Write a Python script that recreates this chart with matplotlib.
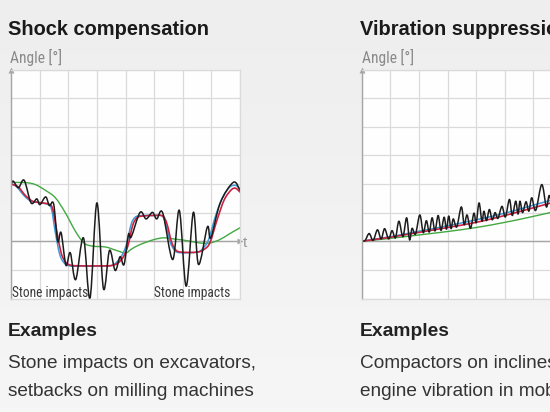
import numpy as np
import matplotlib
matplotlib.use('Agg')
import matplotlib.pyplot as plt
from matplotlib import font_manager as fm
from matplotlib.path import Path
from matplotlib.patches import PathPatch

# ---- data (x in grid cells 0..8, y in cells, axis at 0) ----
# left panel: shock compensation
shock_black_x = [0.0, 0.08, 0.26, 0.46, 0.7, 0.9, 1.01, 1.21, 1.34, 1.49, 1.63, 1.75, 1.92,
                 2.07, 2.26, 2.53, 2.76, 3.0, 3.23, 3.44, 3.64, 3.81, 3.95, 4.1, 4.2, 4.51,
                 4.72, 4.94, 5.09, 5.3, 5.65, 5.88, 6.12, 6.37, 6.55, 6.86, 6.98, 7.31, 7.77, 8.0]
shock_black_y = [2.0, 2.1, 1.87, 2.13, 1.34, 1.48, 1.28, 1.55, 1.25, 1.3, 0.0, 0.3, -0.84,
                 -0.4, -1.34, 0.12, -1.98, 1.34, -1.66, -0.32, -1.02, -0.54, -0.81, 0.23, 0.15, 1.01,
                 0.78, 1.01, 0.78, 0.99, -0.64, 1.08, -1.57, 1.01, -0.81, 0.5, 0.12, 1.34, 2.06, 1.78]

shock_red_x = [0.0, 0.25, 0.5, 0.75, 1.0, 1.3, 1.45, 1.6, 1.75, 1.9, 2.1, 2.5, 3.0, 3.5, 3.75,
               3.95, 4.1, 4.25, 4.4, 4.6, 5.0, 5.3, 5.45, 5.6, 5.75, 5.95, 6.5, 6.75, 6.95, 7.2,
               7.45, 7.7, 7.85, 8.0]
shock_red_y = [2.0, 1.9, 1.6, 1.4, 1.35, 1.3, 1.15, 0.35, -0.4, -0.72, -0.84, -0.86, -0.86, -0.85,
               -0.75, -0.5, -0.1, 0.55, 0.82, 0.88, 0.9, 0.88, 0.6, 0.0, -0.3, -0.38, -0.38, -0.28,
               -0.05, 0.75, 1.45, 1.8, 1.85, 1.72]

shock_blue_x = [0.0, 0.2, 0.45, 0.7, 1.0, 1.3, 1.42, 1.55, 1.7, 1.85, 2.05, 2.5, 3.0, 3.5, 3.7,
                3.9, 4.05, 4.2, 4.35, 4.6, 5.0, 5.28, 5.42, 5.57, 5.72, 5.9, 6.5, 6.7, 6.9, 7.15,
                7.4, 7.65, 7.85, 8.0]
shock_blue_y = [2.0, 1.9, 1.6, 1.4, 1.35, 1.28, 1.1, 0.3, -0.45, -0.75, -0.86, -0.87, -0.87, -0.85,
                -0.72, -0.45, -0.05, 0.6, 0.85, 0.9, 0.9, 0.88, 0.55, -0.05, -0.32, -0.4, -0.38, -0.25,
                0.05, 0.9, 1.55, 1.9, 1.95, 1.83]

shock_green_x = [0.0, 0.5, 0.85, 1.2, 1.55, 1.9, 2.25, 2.55, 2.85, 3.3, 3.65, 4.0, 4.2, 4.5,
                 5.0, 5.35, 5.7, 6.15, 6.6, 6.95, 7.3, 7.65, 8.0]
shock_green_y = [2.05, 2.05, 1.98, 1.78, 1.52, 0.99, 0.35, -0.06, -0.17, -0.2, -0.31, -0.41, -0.28,
                 -0.12, 0.06, 0.12, 0.08, 0.02, -0.06, -0.06, 0.06, 0.27, 0.47]

# right panel: vibration suppression
vib_black_x = [0.0, 0.12, 0.26, 0.4, 0.55, 0.68, 0.8, 0.94, 1.06, 1.18, 1.3, 1.44, 1.57, 1.67,
               1.76, 1.88, 2.03, 2.15, 2.26, 2.36, 2.46, 2.56, 2.67, 2.77, 2.88, 2.96, 3.04, 3.12,
               3.2, 3.32, 3.48, 3.58, 3.68, 3.8, 3.92, 4.0, 4.1, 4.2, 4.27, 4.36, 4.46, 4.56,
               4.66, 4.76, 4.9, 5.02, 5.16, 5.26, 5.38, 5.46, 5.53, 5.62, 5.74, 5.84, 5.94, 6.08,
               6.29, 6.45, 6.55, 6.68, 6.85, 7.0, 7.5, 8.0]
vib_black_y = [0.0, 0.03, 0.27, 0.03, 0.4, 0.08, 0.44, 0.08, 0.37, 0.12, 0.7, 0.16, 0.82, 0.05,
               0.45, 0.25, 0.92, 0.3, 0.72, 0.32, 0.82, 0.36, 0.9, 0.38, 0.84, 0.42, 0.88, 0.44,
               0.78, 0.5, 1.2, 0.58, 0.92, 0.45, 0.98, 0.65, 1.34, 0.7, 1.05, 0.72, 1.11, 0.75,
               1.0, 0.8, 1.22, 0.85, 1.46, 0.9, 1.4, 0.95, 1.4, 1.0, 1.38, 1.05, 1.52, 1.08,
               1.98, 1.2, 1.6, 1.25, 1.8, 1.35, 1.6, 1.8]

vib_line_x = [0, 1, 2, 3, 4, 5, 6, 7, 8]
vib_red_y = [0.0, 0.14, 0.31, 0.48, 0.66, 0.9, 1.17, 1.45, 1.75]
vib_blue_y = [0.0, 0.16, 0.35, 0.54, 0.75, 0.98, 1.26, 1.55, 1.85]
vib_green_y = [0.0, 0.1, 0.22, 0.34, 0.48, 0.66, 0.87, 1.1, 1.35]

titles = ['Shock compensation', 'Vibration suppression']
example_lines = [['Stone impacts on excavators,', 'setbacks on milling machines'],
                 ['Compactors on inclines,', 'engine vibration in mobile machines']]

BLACK = '#1c1c1c'
BLUE = '#3d9bd8'
RED = '#cc2040'
GREEN = '#42a842'
GRID = '#dadada'
AXIS = '#a6a6a6'

W, H = 550, 412
fig = plt.figure(figsize=(W / 100, H / 100), dpi=100, facecolor='#f1f1f1')

# soft grey page background
bg = fig.add_axes([0, 0, 1, 1], zorder=-10)
grad = np.linspace(0, 1, 64).reshape(-1, 1) * np.ones((1, 4))
bg.imshow(grad, aspect='auto', interpolation='bilinear', extent=[0, 1, 0, 1],
          cmap=matplotlib.colors.LinearSegmentedColormap.from_list('bg', ['#eeeeee', '#f6f6f6']))
bg.set_axis_off()


def box(left, top, w, h):
    return [left / W, 1 - (top + h) / H, w / W, h / H]


def smooth(xs, ys):
    # catmull-rom through the read points, drawn as bezier path
    pts = np.column_stack([xs, ys]).astype(float)
    p = np.vstack([pts[0], pts, pts[-1]])
    verts = [pts[0]]
    codes = [Path.MOVETO]
    for i in range(1, len(p) - 2):
        p0, p1, p2, p3 = p[i - 1], p[i], p[i + 1], p[i + 2]
        verts += [p1 + (p2 - p0) / 6, p2 - (p3 - p1) / 6, p2]
        codes += [Path.CURVE4] * 3
    return Path(verts, codes)


def curve(ax, xs, ys, color, lw):
    ax.add_patch(PathPatch(smooth(xs, ys), fill=False, edgecolor=color, lw=lw,
                           capstyle='round', joinstyle='round'))


def frame(ax):
    ax.set_xlim(0, 8)
    ax.set_ylim(-2, 6)
    ax.set_facecolor('#fefefe')
    ax.set_xticks(range(9))
    ax.set_yticks(range(-2, 7))
    ax.tick_params(length=0, labelbottom=False, labelleft=False)
    ax.grid(True, color=GRID, lw=0.9)
    ax.set_axisbelow(True)
    for s in ax.spines.values():
        s.set_color(GRID)
        s.set_linewidth(0.9)
    ax.spines['left'].set_color(AXIS)
    ax.spines['left'].set_linewidth(1.0)
    ax.axhline(0, color=AXIS, lw=1.0, zorder=1)
    ax.plot([0], [6.0], marker='^', ms=4.5, color=AXIS, mec='none', clip_on=False)
    ax.plot([8.0], [0], marker='>', ms=4.5, color=AXIS, mec='none', clip_on=False)


ax1 = fig.add_axes(box(11, 69.5, 229, 229))
frame(ax1)
curve(ax1, shock_green_x, shock_green_y, GREEN, 1.0)
curve(ax1, shock_blue_x, shock_blue_y, BLUE, 1.1)
curve(ax1, shock_red_x, shock_red_y, RED, 1.2)
curve(ax1, shock_black_x, shock_black_y, BLACK, 1.1)

ax2 = fig.add_axes(box(361.7, 69.5, 229, 229))
frame(ax2)
curve(ax2, vib_line_x, vib_green_y, GREEN, 1.0)
curve(ax2, vib_line_x, vib_blue_y, BLUE, 1.1)
curve(ax2, vib_line_x, vib_red_y, RED, 1.2)
curve(ax2, vib_black_x, vib_black_y, BLACK, 1.1)


# condensed face for the small grey labels, if one is installed
def narrow_font():
    best = None
    for f in fm.fontManager.ttflist:
        cond = 'Narrow' in f.name or 'Condensed' in f.name or f.stretch in ('condensed', 'semi-condensed')
        if not cond or f.style != 'normal' or f.weight not in (400, 'normal', 'regular'):
            continue
        rank = 0 if 'Liberation' in f.name else 1 if 'Roboto' in f.name else 2 if 'Noto' in f.name else 3
        if best is None or rank < best[0]:
            best = (rank, f.fname)
    if best is None:
        return fm.FontProperties(family='Liberation Sans')
    return fm.FontProperties(fname=best[1])


NARROW = narrow_font()
SANS = ['Liberation Sans', 'DejaVu Sans']
renderer = fig.canvas.get_renderer()


def ftext(x, y, s, width=None, **kw):
    t = fig.text(x / W, 1 - y / H, s, va='baseline', ha='left', **kw)
    if width:
        # fit size to the measured width in the reference
        w = t.get_window_extent(renderer).width
        t.set_fontsize(t.get_fontsize() * width / w)
    return t


sizes = {}
for k, x0 in enumerate([8, 360]):
    lines = example_lines[k]
    if k == 0:
        t = ftext(x0, 35, titles[k], width=202, fontsize=14, fontweight='bold', color='#1a1a1a', family=SANS)
        sizes['title'] = t.get_fontsize()
        t = ftext(x0 + 2, 62.5, 'Angle [°]', width=52, fontsize=11, color='#8a8a8a', fontproperties=NARROW)
        sizes['angle'] = t.get_fontsize()
        t = ftext(x0, 335.5, 'Examples', width=90, fontsize=13, fontweight='bold', color='#222222', family=SANS)
        sizes['ex'] = t.get_fontsize()
        t = ftext(x0, 367.5, lines[0], width=249, fontsize=13, color='#333333', family=SANS)
        sizes['body'] = t.get_fontsize()
        ftext(x0, 396.5, lines[1], fontsize=sizes['body'], color='#333333', family=SANS)
    else:
        ftext(x0, 35, titles[k], fontsize=sizes['title'], fontweight='bold', color='#1a1a1a', family=SANS)
        ftext(x0 + 2, 62.5, 'Angle [°]', color='#8a8a8a', fontproperties=NARROW).set_fontsize(sizes['angle'])
        ftext(x0, 335.5, 'Examples', fontsize=sizes['ex'], fontweight='bold', color='#222222', family=SANS)
        ftext(x0, 367.5, lines[0], fontsize=sizes['body'], color='#333333', family=SANS)
        ftext(x0, 396.5, lines[1], fontsize=sizes['body'], color='#333333', family=SANS)

ftext(243, 247, 't', fontsize=11, color='#999999', family=SANS)
t = ftext(12, 297, 'Stone impacts', width=76, fontsize=10, color='#3a3a3a', fontproperties=NARROW)
ftext(154, 297, 'Stone impacts', color='#3a3a3a', fontproperties=NARROW).set_fontsize(t.get_fontsize())

fig.savefig('out.png', dpi=100, facecolor=fig.get_facecolor())
